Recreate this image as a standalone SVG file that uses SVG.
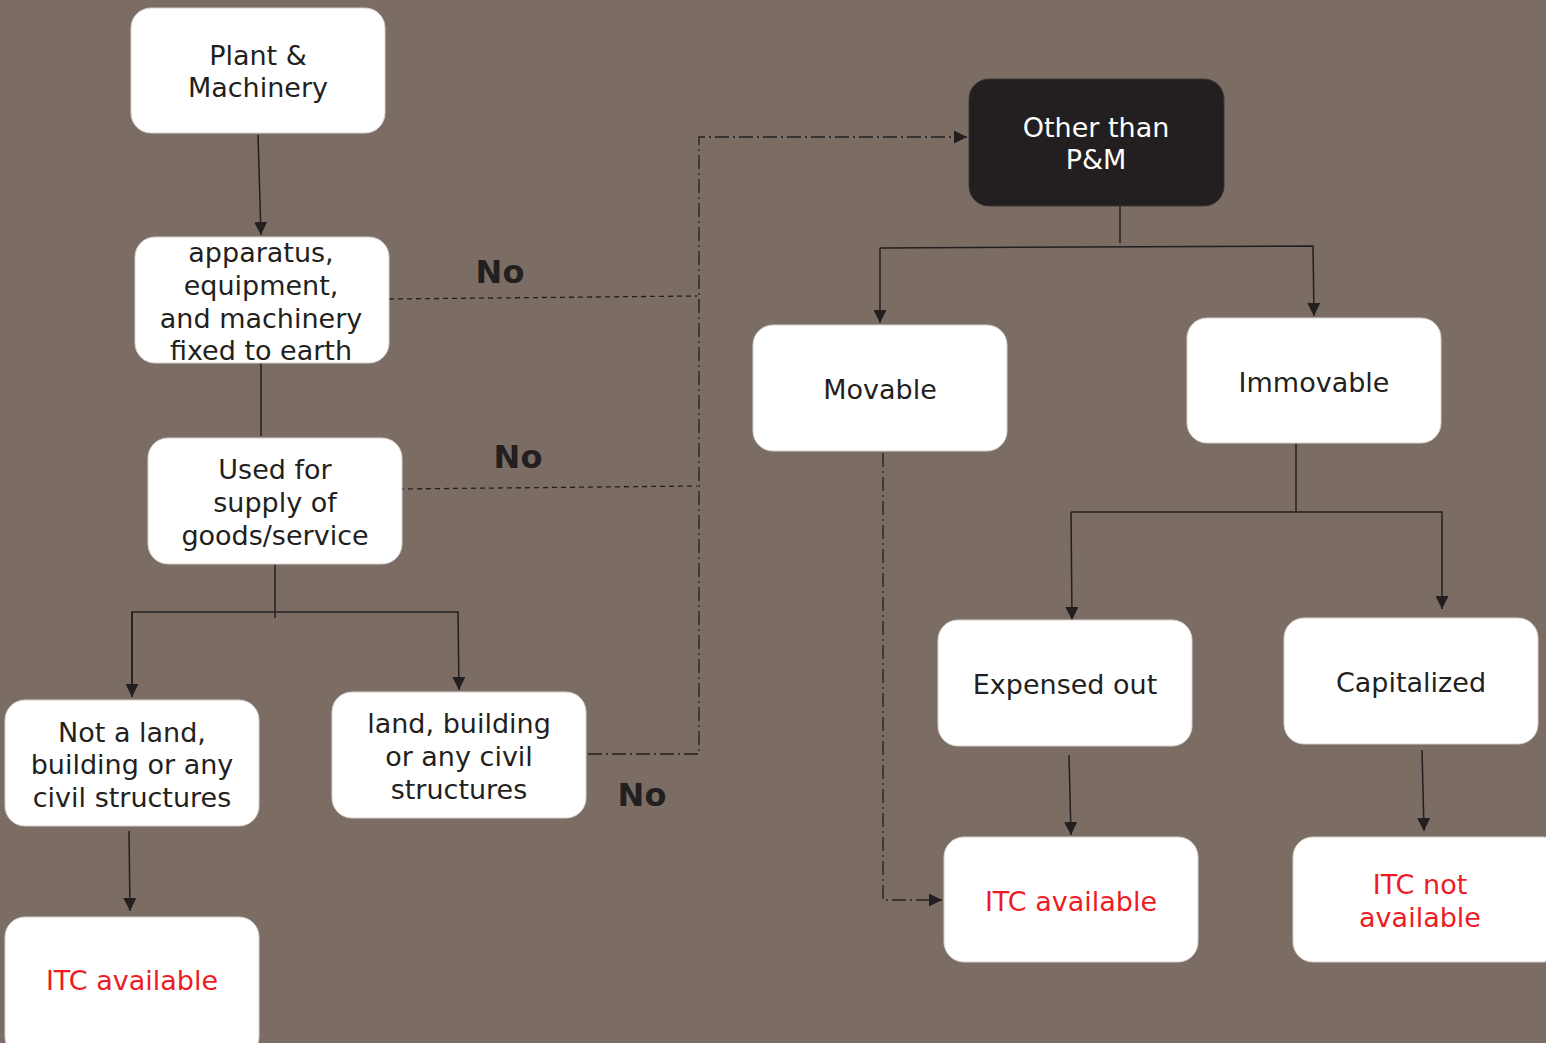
<svg xmlns="http://www.w3.org/2000/svg" width="1546" height="1043" viewBox="0 0 1546 1043">
<defs>
<style>
.box{fill:#fff;stroke:#d8d2ce;stroke-width:1}
.dark{fill:#231f20;stroke:#3a3436;stroke-width:1}
.t{font-family:"DejaVu Sans","Liberation Sans",sans-serif;font-size:27px;fill:#231f20;text-anchor:middle}
.w{fill:#fff}
.r{fill:#ed1c24}
.no{font-family:"DejaVu Sans","Liberation Sans",sans-serif;font-size:32px;font-weight:bold;fill:#231f20;text-anchor:middle}
.ln{fill:none;stroke:#231f20;stroke-width:1.5}
.dash{fill:none;stroke:#231f20;stroke-width:1.3;stroke-dasharray:5 4}
.dd{fill:none;stroke:#231f20;stroke-width:1.3;stroke-dasharray:14 4 2 4}
</style>
<marker id="ah" viewBox="0 0 10 10" refX="10" refY="5" markerWidth="13" markerHeight="13" markerUnits="userSpaceOnUse" orient="auto">
<path d="M0,0 L10,5 L0,10 z" fill="#231f20"/>
</marker>
</defs>
<rect width="1546" height="1043" fill="#7b6d64"/>
<g id="connectors">
<line class="ln" x1="258" y1="135" x2="261" y2="235" marker-end="url(#ah)"/>
<line class="ln" x1="261" y1="363" x2="261" y2="436"/>
<line class="ln" x1="275" y1="564" x2="275" y2="618"/>
<polyline class="ln" points="132,697 132,612 458,612 459,690" marker-end="url(#ah)"/>
<line class="ln" x1="132" y1="612" x2="132" y2="697" marker-end="url(#ah)"/>
<line class="ln" x1="129" y1="831" x2="130" y2="911" marker-end="url(#ah)"/>
<line class="dash" x1="389" y1="299" x2="697" y2="296"/>
<line class="dash" x1="399" y1="489" x2="697" y2="486"/>
<polyline class="dd" points="588,754 699,754 699,137 967,137" marker-end="url(#ah)"/>
<line class="ln" x1="1120" y1="206" x2="1120" y2="243"/>
<polyline class="ln" points="880,248 1313,246 1314,316" marker-end="url(#ah)"/>
<line class="ln" x1="880" y1="248" x2="880" y2="323" marker-end="url(#ah)"/>
<polyline class="dd" points="883,453 883,900 942,900" marker-end="url(#ah)"/>
<line class="ln" x1="1296" y1="443" x2="1296" y2="512"/>
<polyline class="ln" points="1071,512 1442,512 1442,609" marker-end="url(#ah)"/>
<line class="ln" x1="1071" y1="512" x2="1072" y2="620" marker-end="url(#ah)"/>
<line class="ln" x1="1069" y1="755" x2="1071" y2="835" marker-end="url(#ah)"/>
<line class="ln" x1="1422" y1="750" x2="1424" y2="831" marker-end="url(#ah)"/>
</g>
<g id="labels">
<text class="no" x="500" y="283">No</text>
<text class="no" x="518" y="468">No</text>
<text class="no" x="642" y="806">No</text>
</g>
<g id="n-plant">
<rect class="box" x="131" y="8" width="254" height="125" rx="20"/>
<text class="t" x="258" y="65">Plant &amp;</text>
<text class="t" x="258" y="97">Machinery</text>
</g>
<g id="n-apparatus">
<rect class="box" x="135" y="237" width="254" height="126" rx="20"/>
<text class="t" x="261" y="262">apparatus,</text>
<text class="t" x="261" y="295">equipment,</text>
<text class="t" x="261" y="328">and machinery</text>
<text class="t" x="261" y="360">fixed to earth</text>
</g>
<g id="n-used">
<rect class="box" x="148" y="438" width="254" height="126" rx="20"/>
<text class="t" x="275" y="479">Used for</text>
<text class="t" x="275" y="512">supply of</text>
<text class="t" x="275" y="545">goods/service</text>
</g>
<g id="n-notland">
<rect class="box" x="5" y="700" width="254" height="126" rx="20"/>
<text class="t" x="132" y="742">Not a land,</text>
<text class="t" x="132" y="774">building or any</text>
<text class="t" x="132" y="807">civil structures</text>
</g>
<g id="n-land">
<rect class="box" x="332" y="692" width="254" height="126" rx="20"/>
<text class="t" x="459" y="733">land, building</text>
<text class="t" x="459" y="766">or any civil</text>
<text class="t" x="459" y="799">structures</text>
</g>
<g id="n-itc1">
<rect class="box" x="5" y="917" width="254" height="140" rx="20"/>
<text class="t r" x="132" y="990">ITC available</text>
</g>
<g id="n-other">
<rect class="dark" x="969" y="79" width="255" height="127" rx="20"/>
<text class="t w" x="1096" y="137">Other than</text>
<text class="t w" x="1096" y="169">P&amp;M</text>
</g>
<g id="n-movable">
<rect class="box" x="753" y="325" width="254" height="126" rx="20"/>
<text class="t" x="880" y="399">Movable</text>
</g>
<g id="n-immovable">
<rect class="box" x="1187" y="318" width="254" height="125" rx="20"/>
<text class="t" x="1314" y="392">Immovable</text>
</g>
<g id="n-expensed">
<rect class="box" x="938" y="620" width="254" height="126" rx="20"/>
<text class="t" x="1065" y="694">Expensed out</text>
</g>
<g id="n-capitalized">
<rect class="box" x="1284" y="618" width="254" height="126" rx="20"/>
<text class="t" x="1411" y="692">Capitalized</text>
</g>
<g id="n-itc2">
<rect class="box" x="944" y="837" width="254" height="125" rx="20"/>
<text class="t r" x="1071" y="911">ITC available</text>
</g>
<g id="n-itc3">
<rect class="box" x="1293" y="837" width="270" height="125" rx="20"/>
<text class="t r" x="1420" y="894">ITC not</text>
<text class="t r" x="1420" y="927">available</text>
</g>
</svg>
